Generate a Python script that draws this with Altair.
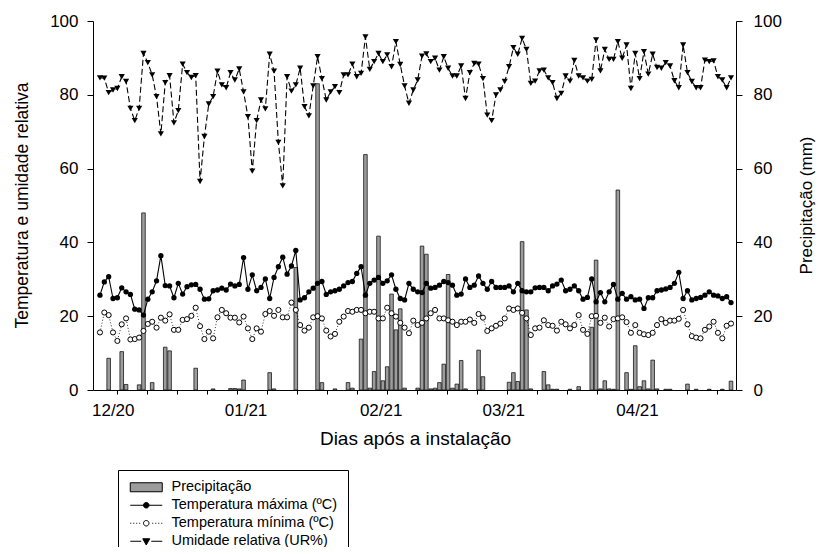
import altair as alt
import pandas as pd

DAYS = list(range(146))

UR = [84.6, 84.5, 80.6, 81.3, 81.7, 84.9, 83.6, 76.3, 73.0, 76.3,
      91.2, 88.7, 85.4, 79.5, 69.4, 83.3, 85.2, 72.4, 75.7, 88.3,
      86.0, 84.7, 85.2, 56.5, 68.7, 77.5, 79.5, 86.4, 82.7, 81.9,
      86.0, 84.0, 87.0, 80.8, 74.1, 59.3, 73.0, 78.6, 76.2, 91.0,
      86.4, 67.1, 55.3, 84.9, 81.0, 82.7, 87.2, 76.8, 74.3, 82.4,
      90.3, 84.4, 78.6, 80.8, 82.2, 80.6, 85.4, 85.4, 88.3, 84.9,
      85.8, 95.7, 86.9, 89.0, 91.2, 89.0, 90.8, 87.6, 94.4, 88.2,
      82.4, 77.7, 81.3, 84.0, 90.5, 91.1, 89.0, 89.9, 86.7, 90.3,
      87.2, 85.1, 85.1, 87.8, 79.0, 86.0, 88.5, 88.3, 84.4, 74.5,
      73.0, 80.0, 81.3, 83.6, 87.6, 92.8, 91.0, 95.3, 92.3, 83.1,
      83.7, 86.5, 86.7, 84.6, 83.3, 79.0, 80.4, 85.1, 83.7, 89.3,
      85.1, 84.6, 83.7, 84.2, 94.9, 86.5, 92.3, 89.6, 89.6, 94.4,
      89.9, 93.5, 81.7, 91.2, 84.4, 91.7, 85.6, 91.0, 87.4, 87.2,
      88.7, 87.8, 83.8, 81.9, 93.5, 86.0, 83.6, 81.9, 81.9, 89.4,
      89.0, 89.2, 84.9, 84.0, 81.9, 84.6]

TMAX = [25.7, 29.3, 30.7, 24.8, 25.0, 27.7, 26.6, 25.9, 21.9, 21.7,
        20.3, 24.6, 26.6, 29.6, 36.4, 28.3, 28.2, 25.0, 28.9, 26.0,
        28.0, 28.5, 28.6, 27.3, 24.6, 24.7, 26.9, 27.1, 27.6, 27.1,
        28.7, 28.2, 28.6, 35.9, 27.3, 31.2, 26.9, 27.8, 30.1, 24.8,
        30.5, 33.4, 36.0, 31.4, 33.6, 37.8, 24.4, 25.0, 26.6, 27.6,
        28.9, 29.4, 25.9, 26.6, 26.9, 27.3, 28.2, 29.1, 29.4, 31.6,
        33.4, 25.7, 28.9, 29.8, 30.5, 28.9, 29.6, 31.2, 27.3, 24.8,
        24.4, 28.9, 27.3, 26.6, 26.4, 28.9, 27.6, 27.8, 28.4, 29.4,
        29.1, 28.4, 25.7, 26.0, 30.1, 27.8, 28.4, 30.9, 28.9, 27.3,
        29.4, 27.8, 27.8, 27.8, 28.2, 26.6, 28.9, 26.9, 26.6, 26.6,
        27.7, 27.8, 27.8, 26.9, 28.2, 28.7, 29.8, 26.9, 27.3, 28.2,
        26.9, 24.6, 25.1, 30.1, 23.9, 26.4, 23.9, 26.6, 28.6, 24.6,
        26.2, 24.6, 25.3, 24.4, 24.6, 22.1, 25.0, 25.0, 26.9, 27.1,
        27.4, 27.8, 28.9, 31.9, 24.8, 26.9, 24.4, 24.8, 25.1, 25.7,
        26.6, 25.7, 25.5, 24.8, 25.3, 23.7]

TMIN = [15.6, 21.0, 20.3, 15.6, 13.3, 17.8, 19.4, 13.7, 13.8, 14.2,
        16.0, 17.9, 18.5, 16.9, 19.6, 18.8, 20.5, 16.3, 16.3, 19.0,
        19.2, 20.1, 22.3, 17.3, 13.8, 15.8, 14.0, 19.7, 21.7, 20.8,
        19.6, 19.6, 18.3, 19.9, 16.7, 13.8, 16.7, 15.8, 20.6, 21.4,
        20.1, 21.7, 19.7, 19.7, 23.7, 21.7, 17.6, 16.1, 16.9, 19.7,
        20.0, 19.4, 16.1, 14.5, 15.2, 18.5, 19.9, 21.4, 21.2, 21.7,
        21.7, 20.8, 21.2, 21.2, 19.4, 19.4, 22.3, 20.8, 19.9, 18.2,
        16.9, 15.4, 18.8, 17.6, 18.2, 19.4, 20.8, 21.7, 19.4, 19.4,
        18.9, 18.5, 17.6, 18.5, 18.5, 19.1, 18.2, 20.6, 19.6, 16.0,
        16.7, 17.4, 18.0, 19.4, 22.1, 21.7, 22.1, 20.9, 19.4, 14.9,
        16.7, 16.9, 18.9, 17.6, 17.4, 16.1, 18.5, 17.8, 16.7, 17.6,
        20.3, 16.3, 15.2, 20.0, 20.1, 18.2, 19.6, 17.2, 19.2, 19.4,
        19.7, 18.4, 15.5, 17.6, 15.5, 15.1, 14.9, 15.5, 17.6, 19.2,
        18.2, 18.8, 18.8, 19.3, 21.7, 17.8, 14.6, 14.2, 14.0, 16.3,
        17.2, 18.5, 15.5, 14.0, 17.4, 18.0]

PRECIP = [0, 0, 8.6, 0, 0, 10.4, 1.5, 0, 0, 1.4,
          48.0, 0, 2.0, 0, 0, 11.6, 10.6, 0, 0, 0,
          0, 0, 5.9, 0, 0, 0, 0.3, 0, 0, 0,
          0.4, 0.4, 0.3, 2.7, 0, 0, 0, 0, 0, 4.7,
          0.3, 0, 0, 0, 0, 33.2, 0, 0, 0, 0,
          83.0, 2.0, 0, 0, 0.3, 0, 0, 2.0, 0.5, 0,
          13.8, 63.8, 0.5, 5.0, 41.7, 2.5, 6.3, 26.0, 16.3, 22.0,
          0.5, 0, 0, 0.5, 39.0, 36.8, 0.3, 0.5, 2.0, 7.0,
          31.3, 0.5, 1.6, 8.0, 0.3, 0, 0, 10.8, 3.6, 0,
          0, 0, 0, 0, 2.1, 4.7, 2.3, 40.2, 21.7, 0.3,
          0, 0, 5.0, 1.4, 0.2, 0.2, 0, 0, 0.2, 0,
          0.9, 0, 0, 17.0, 35.2, 0.3, 2.5, 0.3, 0.2, 54.2,
          0, 4.7, 0.2, 12.0, 0.9, 2.5, 0.3, 8.1, 0.3, 0,
          0.2, 0.2, 0, 0, 0, 1.6, 0, 0.2, 0, 0,
          0.2, 0, 0, 0.2, 0, 2.4]

SERIES = ["Precipitação", "Temperatura máxima (ºC)",
          "Temperatura mínima (ºC)", "Umidade relativa (UR%)"]
MONTH_LABELS = ["12/20", "01/21", "02/21", "03/21", "04/21"]
MONTH_POS = [2.94, 33.45, 64.5, 92.66, 123.4]
TICK_POS = [round(3.84 + 6.9 * k, 2) for k in range(21)]
Y_TICKS = [0, 20, 40, 60, 80, 100]

FONT = "Liberation Sans"

df = pd.DataFrame({"dia": DAYS, "ur": UR, "tmax": TMAX, "tmin": TMIN, "prec": PRECIP})
legend_df = pd.DataFrame({"serie": SERIES})

pos_list = ",".join(str(v) for v in MONTH_POS)
lab_list = ",".join("'" + s + "'" for s in MONTH_LABELS)
is_month = "indexof([" + pos_list + "], datum.value) >= 0"
label_expr = is_month + " ? [" + lab_list + "][indexof([" + pos_list + "], datum.value)] : ''"

x_enc = alt.X(
    "dia:Q",
    scale=alt.Scale(domain=[-0.45, 145.0], nice=False, zero=False),
    axis=alt.Axis(
        values=TICK_POS + MONTH_POS,
        labelExpr=label_expr,
        labelOverlap=False,
        labelFlush=False,
        tickSize=4,
        tickOpacity={"condition": {"test": is_month, "value": 0}, "value": 1},
        labelPadding=8,
        labelFontSize=17,
        titleFontSize=19,
        titleX=322, titleY=48, titleAlign="center", titleBaseline="middle",
        grid=False,
    ),
    title="Dias após a instalação",
)

left_axis = alt.Axis(values=Y_TICKS, tickSize=6, labelPadding=9, labelFontSize=17,
                     titleFontSize=17.5, titleX=-71, titleY=184, titleAngle=270,
                     titleAlign="center", titleBaseline="middle", grid=False, orient="left")
y_scale = alt.Scale(domain=[0, 100], nice=False)
TITLE_L = "Temperatura e umidade relativa"

bars = alt.Chart(df).transform_filter("datum.prec > 0").mark_bar(
    width=3.6, fill="#9c9c9c", stroke="black", strokeWidth=0.7, opacity=1
).encode(
    x=x_enc,
    y=alt.Y("prec:Q", scale=y_scale,
            axis=alt.Axis(values=Y_TICKS, tickSize=6, labelPadding=11, labelFontSize=17,
                          titleFontSize=17, titleX=70, titleY=184, titleAngle=270,
                          titleAlign="center", titleBaseline="middle",
                          grid=False, orient="right"),
            title="Precipitação (mm)"),
)

tmax_line = alt.Chart(df).mark_line(color="black", strokeWidth=1.1).encode(
    x=x_enc, y=alt.Y("tmax:Q", scale=y_scale, axis=left_axis, title=TITLE_L))
tmax_pts = alt.Chart(df).mark_point(filled=True, color="black", size=28, opacity=1).encode(
    x=x_enc, y=alt.Y("tmax:Q", scale=y_scale, axis=left_axis, title=TITLE_L))

tmin_line = alt.Chart(df).mark_line(color="black", strokeWidth=0.8, strokeDash=[1, 2]).encode(
    x=x_enc, y=alt.Y("tmin:Q", scale=y_scale, axis=left_axis, title=TITLE_L))
tmin_pts = alt.Chart(df).mark_point(filled=False, fill="white", stroke="black", strokeWidth=1,
                                    size=26, opacity=1).encode(
    x=x_enc, y=alt.Y("tmin:Q", scale=y_scale, axis=left_axis, title=TITLE_L))

ur_line = alt.Chart(df).mark_line(color="black", strokeWidth=1.1, strokeDash=[6, 3]).encode(
    x=x_enc, y=alt.Y("ur:Q", scale=y_scale, axis=left_axis, title=TITLE_L))
ur_pts = alt.Chart(df).mark_point(filled=True, color="black", shape="triangle-down",
                                  size=38, opacity=1).encode(
    x=x_enc, y=alt.Y("ur:Q", scale=y_scale, axis=left_axis, title=TITLE_L))

# legend symbols: custom paths (1 unit = 5 px with symbolSize 100)
PATHS = [
    "M-3.2,-0.9H3.2V0.9H-3.2Z",
    "M-3.2,0H3.2M0.56,0A0.56,0.56 0 1,1 -0.56,0A0.56,0.56 0 1,1 0.56,0Z",
    "M-3.2,0h0.2M-2.6,0h0.2M-2.0,0h0.2M-1.4,0h0.2M1.2,0h0.2M1.8,0h0.2M2.4,0h0.2M3.0,0h0.2"
    "M0.55,0A0.55,0.55 0 1,1 -0.55,0A0.55,0.55 0 1,1 0.55,0Z",
    "M-3.2,0H-1.0M1.0,0H3.2M-0.7,-0.5L0.7,-0.5L0,0.75Z",
]
FILLS = ["#9c9c9c", "black", "white", "black"]
LEG = alt.Legend(title=None)

legend_layer = alt.Chart(legend_df).mark_point(opacity=1, clip=True, strokeWidth=1).encode(
    x=alt.value(-2000), y=alt.value(-2000),
    shape=alt.Shape("serie:N", scale=alt.Scale(domain=SERIES, range=PATHS), legend=LEG),
    fill=alt.Fill("serie:N", scale=alt.Scale(domain=SERIES, range=FILLS), legend=LEG),
    stroke=alt.Stroke("serie:N", scale=alt.Scale(domain=SERIES, range=["black"] * 4), legend=LEG),
)

inner = alt.layer(tmax_line, tmax_pts, tmin_line, tmin_pts, ur_line, ur_pts, legend_layer)

chart = alt.layer(bars, inner).resolve_scale(y="independent").properties(
    width=643, height=369,
    autosize=alt.AutoSizeParams(type="none"),
    padding={"left": 85, "top": 13, "right": 80, "bottom": 157},
).configure_axis(
    labelFont=FONT, titleFont=FONT, domainColor="black", tickColor="black",
    labelColor="black", titleColor="black", titleFontWeight="normal", domainWidth=1,
).configure_legend(
    orient="none", legendX=25, legendY=449, strokeColor="black", fillColor="white",
    padding=10, labelFont=FONT, labelFontSize=14.5, labelColor="black", labelLimit=400,
    symbolSize=100, symbolStrokeWidth=1, rowPadding=3, symbolOffset=11, labelOffset=18,
    cornerRadius=0,
).configure_view(stroke=None)

chart.save("out.html", embed_options={"renderer": "svg", "actions": False})
